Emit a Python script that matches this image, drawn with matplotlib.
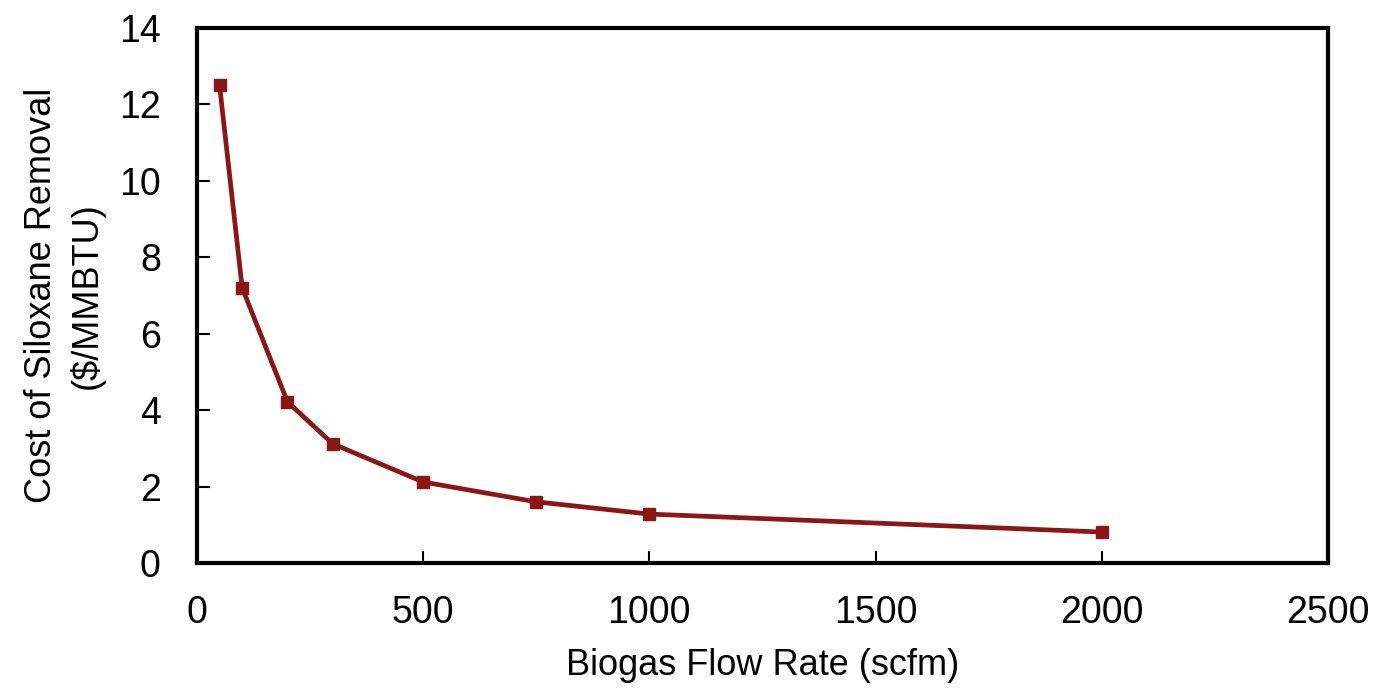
import matplotlib
matplotlib.use("Agg")
import matplotlib.pyplot as plt

flow_rate = [50, 100, 200, 300, 500, 750, 1000, 2000]
cost = [12.5, 7.2, 4.22, 3.12, 2.12, 1.6, 1.28, 0.81]
x_ticks = [0, 500, 1000, 1500, 2000, 2500]
y_ticks = [0, 2, 4, 6, 8, 10, 12, 14]

plt.rcParams['font.family'] = ['Liberation Sans', 'DejaVu Sans']

fig = plt.figure(figsize=(13.84, 6.93), dpi=100)
ax = fig.add_axes([0.1423, 0.1876, 0.9595 - 0.1423, 0.9596 - 0.1876])
ax.plot(flow_rate, cost, color='#8c1515', lw=3.4, marker='s', ms=9, mfc='#8c1515', mec='#8c1515')
ax.set_xlim(0, 2500)
ax.set_ylim(0, 14)
ax.set_xticks(x_ticks)
ax.set_yticks(y_ticks)
ax.tick_params(direction='in', length=9, width=1.5, labelsize=27)
ax.tick_params(axis='x', pad=23)
ax.tick_params(axis='y', pad=26)
for s in ax.spines.values():
    s.set_linewidth(3)
ax.set_xlabel('Biogas Flow Rate (scfm)', fontsize=26, labelpad=12)
ax.set_ylabel('Cost of Siloxane Removal\n($/MMBTU)', fontsize=26, labelpad=10, linespacing=1.35)
fig.savefig('out.png', dpi=100)
